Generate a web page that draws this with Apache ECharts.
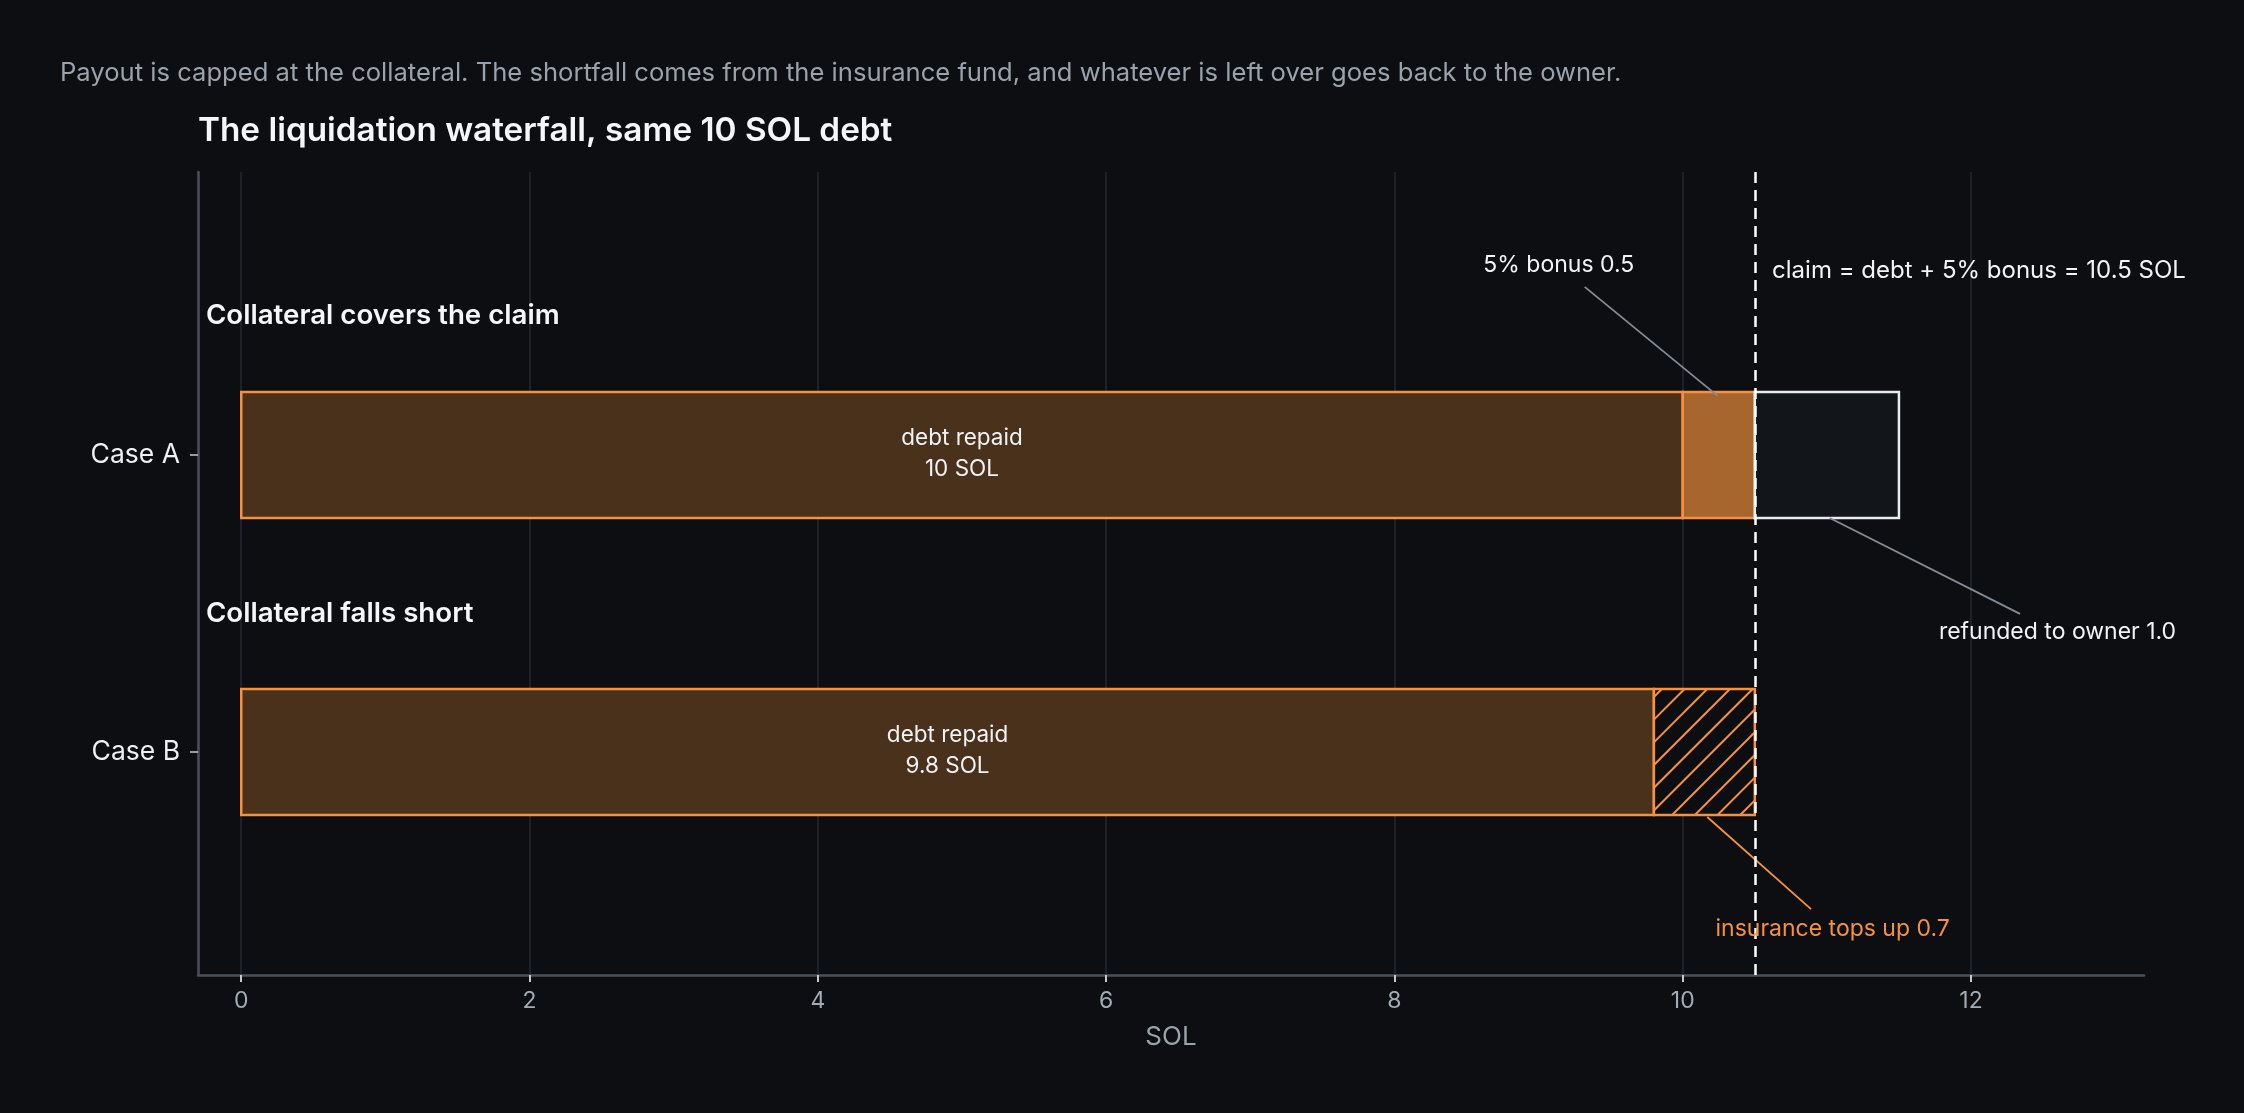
<!DOCTYPE html>
<html>
<head>
<meta charset="utf-8">
<script src="https://cdn.jsdelivr.net/npm/echarts@6/dist/echarts.min.js"></script>
<style>
  html, body { margin: 0; padding: 0; background: #0c0e12; }
  #chart { width: 2244px; height: 1113px; }
</style>
</head>
<body>
<div id="chart"></div>
<script>
// data
var cases = ['Case A', 'Case B'];
var debtRepaid = [10, 9.8];
var bonusPaid = [0.5, 0];
var refunded = [1.0, 0];
var insuranceTopUp = [0, 0.7];
var claim = 10.5;
var xTicks = [0, 2, 4, 6, 8, 10, 12];

var ORANGE = '#f7913d';
var FONT = 'Inter, "Noto Sans", sans-serif';
var barHeight = 0.424;

// build segments [start, end, caseIndex]
var debtSegs = [], bonusSegs = [], refundSegs = [], insSegs = [];
cases.forEach(function (c, i) {
    debtSegs.push([0, debtRepaid[i], i]);
    var end = debtRepaid[i];
    if (bonusPaid[i] > 0) { bonusSegs.push([end, end + bonusPaid[i], i]); end += bonusPaid[i]; }
    if (insuranceTopUp[i] > 0) { insSegs.push([end, end + insuranceTopUp[i], i]); end += insuranceTopUp[i]; }
    if (refunded[i] > 0) { refundSegs.push([end, end + refunded[i], i]); }
});

function segRect(api) {
    var y = api.value(2);
    var p0 = api.coord([api.value(0), y]);
    var p1 = api.coord([api.value(1), y]);
    var h = api.size([0, barHeight])[1];
    return { x: p0[0], y: p0[1] - h / 2, width: p1[0] - p0[0], height: h };
}

function plainRenderer(fill, stroke, withLabel) {
    return function (params, api) {
        var r = segRect(api);
        var children = [{
            type: 'rect', shape: r,
            style: { fill: fill, stroke: stroke, lineWidth: 2.5 }
        }];
        if (withLabel) {
            children.push({
                type: 'text',
                style: {
                    text: 'debt repaid\n' + api.value(1) + ' SOL',
                    x: r.x + r.width / 2, y: r.y + r.height / 2 - 1,
                    align: 'center', verticalAlign: 'middle',
                    fill: '#f1f3f5', font: '22.5px ' + FONT, lineHeight: 31
                }
            });
        }
        return { type: 'group', children: children };
    };
}

// hatched segment ("/" lines clipped to the bar)
function hatchRenderer(params, api) {
    var r = segRect(api);
    var x0 = r.x, x1 = r.x + r.width, y0 = r.y, y1 = r.y + r.height;
    var step = 22.7;
    var children = [{ type: 'rect', shape: r, style: { fill: '#0c0e12' } }];
    for (var c = x0 + y0 + step * 0.35; c < x1 + y1; c += step) {
        var xs = Math.max(x0, c - y1), xe = Math.min(x1, c - y0);
        if (xe > xs) {
            children.push({
                type: 'line',
                shape: { x1: xs, y1: c - xs, x2: xe, y2: c - xe },
                style: { stroke: ORANGE, lineWidth: 2 }
            });
        }
    }
    children.push({ type: 'rect', shape: r, style: { fill: 'none', stroke: ORANGE, lineWidth: 2.5 } });
    return { type: 'group', children: children };
}

function note(x, y, text, color, align, size) {
    return {
        value: [x, y],
        label: { formatter: text, color: color || '#f1f3f5', align: align || 'center', fontSize: size || 23 }
    };
}

var myChart = echarts.init(document.getElementById('chart'));
var option = {
    backgroundColor: '#0c0e12',
    animation: false,
    textStyle: { fontFamily: FONT },
    graphic: [
        {
            type: 'text', left: 60, top: 60,
            style: {
                text: 'Payout is capped at the collateral. The shortfall comes from the insurance fund, and whatever is left over goes back to the owner.',
                fill: '#9aa2ac', font: '25.6px ' + FONT
            }
        },
        {
            type: 'text', left: 198, top: 114,
            style: {
                text: 'The liquidation waterfall, same 10 SOL debt',
                fill: '#f4f6f8', font: '600 33.3px ' + FONT
            }
        }
    ],
    grid: { left: 198, right: 100, top: 172, bottom: 138 },
    xAxis: {
        type: 'value', min: -0.3, max: 13.2,
        name: 'SOL', nameLocation: 'middle', nameGap: 49,
        nameTextStyle: { color: '#9aa2ac', fontSize: 26, fontFamily: FONT },
        axisLine: { show: true, onZero: false, lineStyle: { color: '#4a515b', width: 2.5 } },
        axisTick: { show: true, customValues: xTicks, length: 7, lineStyle: { color: '#c4cad1', width: 2 } },
        axisLabel: { customValues: xTicks, margin: 15, color: '#a3abb5', fontSize: 23, fontFamily: FONT },
        splitLine: { show: true, lineStyle: { color: '#242930', width: 1.5 } }
    },
    yAxis: {
        type: 'value', min: -0.953, max: 1.751, inverse: true,
        axisLine: { show: true, onZero: false, lineStyle: { color: '#4a515b', width: 2.5 } },
        axisTick: { show: true, customValues: [0, 1], length: 8, lineStyle: { color: '#c4cad1', width: 1.5 } },
        axisLabel: {
            customValues: [0, 1], margin: 18, color: '#eef0f3', fontSize: 26.5, fontFamily: FONT,
            formatter: function (v) { return cases[Math.round(v)]; }
        },
        splitLine: { show: false }
    },
    series: [
        { name: 'debt', type: 'custom', renderItem: plainRenderer('#4a311c', ORANGE, true), data: debtSegs, z: 2 },
        { name: 'bonus', type: 'custom', renderItem: plainRenderer('#a8662f', ORANGE, false), data: bonusSegs, z: 3 },
        { name: 'refund', type: 'custom', renderItem: plainRenderer('#12151a', '#e8ecf0', false), data: refundSegs, z: 3 },
        { name: 'insurance', type: 'custom', renderItem: hatchRenderer, data: insSegs, z: 3 },
        {
            name: 'leaders', type: 'lines', coordinateSystem: 'cartesian2d', z: 4, silent: true,
            lineStyle: { opacity: 1 },
            data: [
                { coords: [[9.32, -0.566], [10.24, -0.2]], lineStyle: { color: '#848c96', width: 1.8, opacity: 1 } },
                { coords: [[11.02, 0.212], [12.34, 0.535]], lineStyle: { color: '#848c96', width: 1.8, opacity: 1 } },
                { coords: [[10.17, 1.219], [10.89, 1.529]], lineStyle: { color: ORANGE, width: 1.8, opacity: 1 } }
            ]
        },
        {
            name: 'notes', type: 'scatter', symbolSize: 0, z: 6, silent: true,
            itemStyle: { opacity: 1 },
            label: { show: true, position: 'inside', verticalAlign: 'middle', fontFamily: FONT, opacity: 1 },
            data: [
                note(9.14, -0.64, '5% bonus ' + bonusPaid[0].toFixed(1)),
                note(10.62, -0.62, 'claim = debt + 5% bonus = ' + claim + ' SOL', null, 'left', 24),
                note(12.6, 0.596, 'refunded to owner ' + refunded[0].toFixed(1)),
                note(11.04, 1.596, 'insurance tops up ' + insuranceTopUp[1].toFixed(1), ORANGE),
                {
                    value: [-0.245, -0.47],
                    label: { formatter: 'Collateral covers the claim', align: 'left', fontSize: 27.7, fontWeight: 600, color: '#f4f6f8' }
                },
                {
                    value: [-0.245, 0.535],
                    label: { formatter: 'Collateral falls short', align: 'left', fontSize: 27.7, fontWeight: 600, color: '#f4f6f8' }
                }
            ],
            markLine: {
                silent: true, symbol: ['none', 'none'], label: { show: false },
                lineStyle: { color: '#ffffff', type: [11, 7], width: 2.5, opacity: 1 },
                data: [{ xAxis: claim }]
            }
        }
    ]
};
myChart.setOption(option);
</script>
</body>
</html>
